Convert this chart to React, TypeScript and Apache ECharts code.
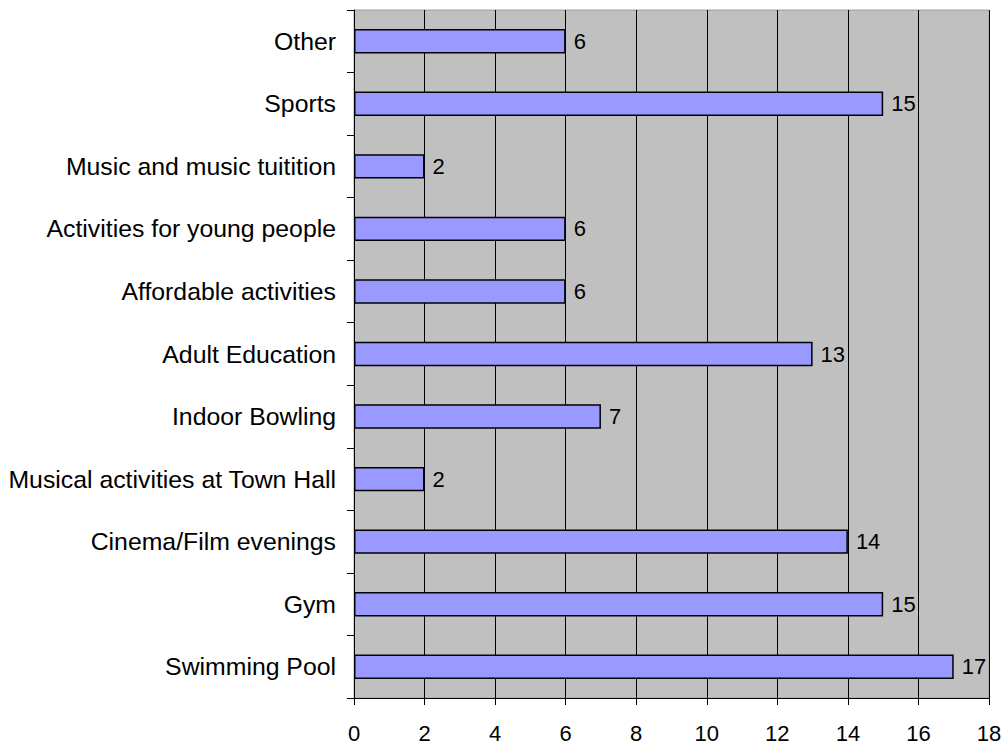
import React, { useEffect, useRef } from "react";
import * as echarts from "echarts";

const categories = [
  "Swimming Pool",
  "Gym",
  "Cinema/Film evenings",
  "Musical activities at Town Hall",
  "Indoor Bowling",
  "Adult Education",
  "Affordable activities",
  "Activities for young people",
  "Music and music tuitition",
  "Sports",
  "Other",
];
const values = [17, 15, 14, 2, 7, 13, 6, 6, 2, 15, 6];
const xMin = 0;
const xMax = 18;
const xInterval = 2;

export default function App() {
  const ref = useRef<HTMLDivElement>(null);
  useEffect(() => {
    if (!ref.current) return;
    const chart = echarts.init(ref.current, undefined, { renderer: "svg" });
    const font = "Liberation Sans, Arial, sans-serif";
    chart.setOption({
      animation: false,
      grid: {
        left: 354,
        right: 17,
        top: 10,
        bottom: 48,
        show: true,
        backgroundColor: "#c0c0c0",
        borderColor: "#a0a0a0",
        borderWidth: 1,
      },
      xAxis: {
        type: "value",
        min: xMin,
        max: xMax,
        interval: xInterval,
        axisLine: { show: true, lineStyle: { color: "#000", width: 1 } },
        axisTick: { show: true, length: 7, lineStyle: { color: "#000" } },
        axisLabel: { color: "#000", fontSize: 22, fontFamily: font, margin: 24 },
        splitLine: { show: true, lineStyle: { color: "#000", width: 1 } },
      },
      yAxis: {
        type: "category",
        data: categories,
        boundaryGap: true,
        axisLine: { show: true, lineStyle: { color: "#000", width: 1 } },
        axisTick: { show: true, length: 7, lineStyle: { color: "#000" } },
        axisLabel: { color: "#000", fontSize: 24.8, fontFamily: font, margin: 18 },
        splitLine: { show: false },
      },
      series: [
        {
          type: "bar",
          data: values,
          barWidth: "39%",
          itemStyle: { color: "#9999ff", borderColor: "#000", borderWidth: 1.5 },
          label: {
            show: true,
            position: "right",
            distance: 8,
            color: "#000",
            fontSize: 22,
            fontFamily: font,
          },
        },
      ],
    });
    return () => chart.dispose();
  }, []);
  return (
    <div
      ref={ref}
      style={{ width: 1006, height: 746, position: "absolute", left: 0, top: 0 }}
    />
  );
}
